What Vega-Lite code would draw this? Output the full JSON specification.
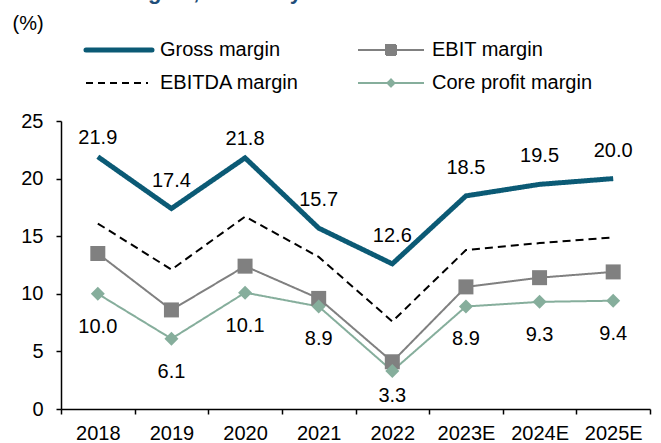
{
  "$schema": "https://vega.github.io/schema/vega-lite/v6.json",
  "width": 589,
  "height": 288,
  "autosize": {"type": "none"},
  "padding": {"left": 61, "top": 121, "right": 11, "bottom": 34},
  "background": "white",
  "title": {
    "text": "Profit margins, to steady",
    "anchor": "start",
    "frame": "group",
    "font": "Liberation Sans",
    "fontSize": 22,
    "fontWeight": "bold",
    "color": "#1F4E79",
    "dx": -17,
    "offset": 9
  },
  "config": {
    "view": {"stroke": null},
    "font": "Liberation Sans",
    "axis": {"grid": false}
  },
  "data": {
    "values": [
      {"year": "2018", "series": "EBITDA margin", "value": 16.1},
      {"year": "2019", "series": "EBITDA margin", "value": 12.1},
      {"year": "2020", "series": "EBITDA margin", "value": 16.7},
      {"year": "2021", "series": "EBITDA margin", "value": 13.2},
      {"year": "2022", "series": "EBITDA margin", "value": 7.6},
      {"year": "2023E", "series": "EBITDA margin", "value": 13.8},
      {"year": "2024E", "series": "EBITDA margin", "value": 14.4},
      {"year": "2025E", "series": "EBITDA margin", "value": 14.9},
      {"year": "2018", "series": "EBIT margin", "value": 13.5},
      {"year": "2019", "series": "EBIT margin", "value": 8.6},
      {"year": "2020", "series": "EBIT margin", "value": 12.4},
      {"year": "2021", "series": "EBIT margin", "value": 9.6},
      {"year": "2022", "series": "EBIT margin", "value": 4.1},
      {"year": "2023E", "series": "EBIT margin", "value": 10.6},
      {"year": "2024E", "series": "EBIT margin", "value": 11.4},
      {"year": "2025E", "series": "EBIT margin", "value": 11.9},
      {"year": "2018", "series": "Core profit margin", "value": 10.0},
      {"year": "2019", "series": "Core profit margin", "value": 6.1},
      {"year": "2020", "series": "Core profit margin", "value": 10.1},
      {"year": "2021", "series": "Core profit margin", "value": 8.9},
      {"year": "2022", "series": "Core profit margin", "value": 3.3},
      {"year": "2023E", "series": "Core profit margin", "value": 8.9},
      {"year": "2024E", "series": "Core profit margin", "value": 9.3},
      {"year": "2025E", "series": "Core profit margin", "value": 9.4},
      {"year": "2018", "series": "Gross margin", "value": 21.9},
      {"year": "2019", "series": "Gross margin", "value": 17.4},
      {"year": "2020", "series": "Gross margin", "value": 21.8},
      {"year": "2021", "series": "Gross margin", "value": 15.7},
      {"year": "2022", "series": "Gross margin", "value": 12.6},
      {"year": "2023E", "series": "Gross margin", "value": 18.5},
      {"year": "2024E", "series": "Gross margin", "value": 19.5},
      {"year": "2025E", "series": "Gross margin", "value": 20.0}
    ]
  },
  "encoding": {
    "x": {
      "field": "year",
      "type": "ordinal",
      "sort": ["2018", "2019", "2020", "2021", "2022", "2023E", "2024E", "2025E"],
      "bandPosition": 0.5,
      "scale": {"type": "band", "paddingInner": 0, "paddingOuter": 0},
      "axis": {
        "title": null,
        "labelAngle": 0,
        "tickBand": "extent",
        "labelFont": "Liberation Sans",
        "labelFontSize": 20,
        "labelColor": "#000000",
        "labelPadding": 9,
        "tickSize": 5,
        "tickColor": "#000000",
        "tickWidth": 1.5,
        "domainColor": "#000000",
        "domainWidth": 1.5
      }
    },
    "y": {
      "field": "value",
      "type": "quantitative",
      "scale": {"domain": [0, 25], "nice": false},
      "axis": {
        "values": [0, 5, 10, 15, 20, 25],
        "title": "(%)",
        "titleAngle": 0,
        "titleX": -49,
        "titleY": -98,
        "titleAlign": "left",
        "titleBaseline": "middle",
        "titleFont": "Liberation Sans",
        "titleFontSize": 20,
        "titleFontWeight": "normal",
        "titleColor": "#000000",
        "labelFont": "Liberation Sans",
        "labelFontSize": 20,
        "labelColor": "#000000",
        "labelPadding": 13,
        "tickSize": 5,
        "tickColor": "#000000",
        "tickWidth": 1.5,
        "domainColor": "#000000",
        "domainWidth": 1.5
      }
    }
  },
  "layer": [
    {
      "mark": {"type": "line", "strokeCap": "butt", "strokeJoin": "miter"},
      "encoding": {
        "color": {
          "field": "series",
          "type": "nominal",
          "scale": {
            "domain": ["Gross margin", "EBIT margin", "EBITDA margin", "Core profit margin"],
            "range": ["#0B5A75", "#808080", "#000000", "#86AE9C"]
          },
          "legend": {
            "orient": "none",
            "legendX": 48,
            "legendY": -81,
            "direction": "horizontal",
            "columns": 2,
            "title": null,
            "padding": 0,
            "labelFont": "Liberation Sans",
            "labelFontSize": 20,
            "labelColor": "#000000",
            "labelOffset": 31,
            "labelLimit": 400,
            "symbolSize": 400,
            "symbolType": "stroke",
            "symbolStrokeWidth": 2,
            "columnPadding": 55,
            "rowPadding": 13,
            "encode": {
              "symbols": {
                "update": {
                  "shape": {"signal": "datum.value === 'EBIT margin' ? 'M-3.3,0H3.3M-0.5,-0.5H0.5V0.5H-0.5Z' : datum.value === 'Core profit margin' ? 'M-3.3,0H3.3M-0.35,0L0,-0.35L0.35,0L0,0.35Z' : datum.value === 'EBITDA margin' ? 'M-3.3,0H2.9' : 'M-3.3,0H3.3'"},
                  "stroke": {"signal": "scale('color', datum.value)"},
                  "fill": {"signal": "datum.value === 'EBIT margin' ? '#808080' : datum.value === 'Core profit margin' ? '#86AE9C' : 'transparent'"},
                  "strokeWidth": {"signal": "datum.value === 'Gross margin' ? 5 : 2"},
                  "strokeDash": {"signal": "datum.value === 'EBITDA margin' ? [7, 5] : [1, 0]"},
                  "strokeCap": {"signal": "datum.value === 'Gross margin' ? 'round' : 'butt'"},
                  "opacity": {"value": 1}
                }
              }
            }
          }
        },
        "strokeDash": {
          "condition": {"test": "datum.series === 'EBITDA margin'", "value": [8, 5]},
          "value": [1, 0]
        },
        "strokeWidth": {
          "condition": {"test": "datum.series === 'Gross margin'", "value": 5},
          "value": 2
        }
      }
    },
    {
      "transform": [{"filter": "datum.series === 'EBIT margin' || datum.series === 'Core profit margin'"}],
      "mark": {"type": "point", "filled": true, "opacity": 1},
      "encoding": {
        "fill": {"condition": {"test": "datum.series === 'EBIT margin'", "value": "#808080"}, "value": "#86AE9C"},
        "shape": {"condition": {"test": "datum.series === 'EBIT margin'", "value": "square"}, "value": "diamond"},
        "size": {"condition": {"test": "datum.series === 'EBIT margin'", "value": 225}, "value": 196}
      }
    },
    {
      "transform": [{"filter": "datum.series === 'Gross margin' && datum.year !== '2018' && datum.year !== '2020'"}],
      "mark": {"type": "text", "dy": -28, "baseline": "middle", "font": "Liberation Sans", "fontSize": 20, "color": "#000000"},
      "encoding": {"text": {"field": "value", "type": "quantitative", "format": ".1f"}}
    },
    {
      "transform": [{"filter": "datum.series === 'Gross margin' && (datum.year === '2018' || datum.year === '2020')"}],
      "mark": {"type": "text", "dy": -19, "baseline": "middle", "font": "Liberation Sans", "fontSize": 20, "color": "#000000"},
      "encoding": {"text": {"field": "value", "type": "quantitative", "format": ".1f"}}
    },
    {
      "transform": [{"filter": "datum.series === 'Core profit margin' && datum.year !== '2022'"}],
      "mark": {"type": "text", "dy": 33, "baseline": "middle", "font": "Liberation Sans", "fontSize": 20, "color": "#000000"},
      "encoding": {"text": {"field": "value", "type": "quantitative", "format": ".1f"}}
    },
    {
      "transform": [{"filter": "datum.series === 'Core profit margin' && datum.year === '2022'"}],
      "mark": {"type": "text", "dy": 25, "baseline": "middle", "font": "Liberation Sans", "fontSize": 20, "color": "#000000"},
      "encoding": {"text": {"field": "value", "type": "quantitative", "format": ".1f"}}
    }
  ]
}
